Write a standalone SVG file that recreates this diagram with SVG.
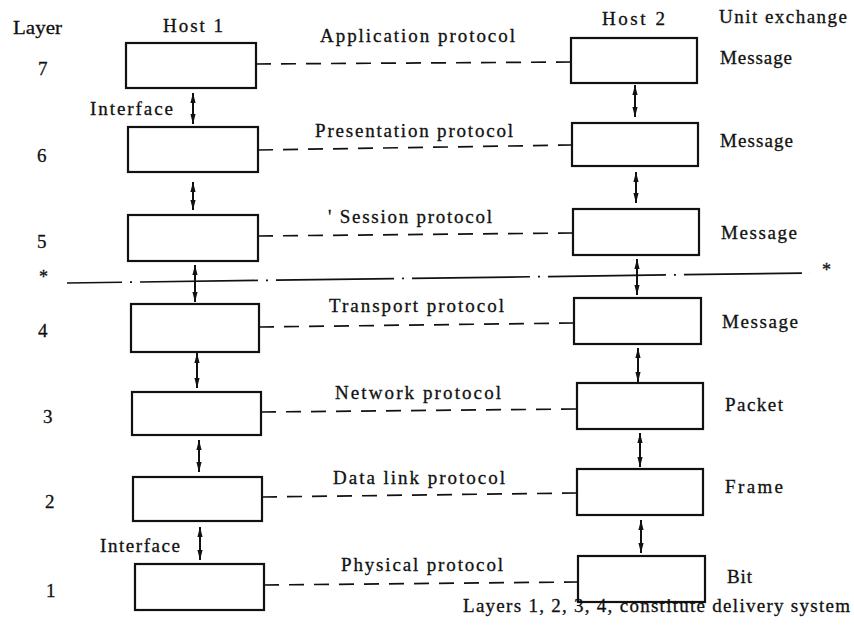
<svg xmlns="http://www.w3.org/2000/svg" width="854" height="644" viewBox="0 0 854 644" font-family="'Liberation Serif', 'Times New Roman', serif">
  <style>
    text { font-family: "Liberation Serif", "Times New Roman", serif; font-size: 19px; fill: #111; stroke: #111; stroke-width: 0.3; }
    .num { font-size: 19px; }
    .star { font-size: 18px; }
    .box { fill: #fff; stroke: #111; stroke-width: 2.2; }
    .peer { fill: none; stroke: #111; stroke-width: 1.7; stroke-dasharray: 15 10; }
    .iface { fill: none; stroke: #111; stroke-width: 2; marker-start: url(#head); marker-end: url(#head); }
    .split { fill: none; stroke: #111; stroke-width: 1.7; stroke-dasharray: 118 8 2 8; stroke-dashoffset: 63; }
  </style>
  <defs>
    <marker id="head" viewBox="0 0 10 6" refX="10" refY="3" markerWidth="10" markerHeight="6" markerUnits="userSpaceOnUse" orient="auto-start-reverse">
      <path d="M0,0.4 L10,3 L0,5.6 z" fill="#111"/>
    </marker>
  </defs>
  <rect width="854" height="644" fill="#fff"/>

  <!-- column headings -->
  <g id="headings">
    <text x="13" y="34" textLength="49" lengthAdjust="spacingAndGlyphs">Layer</text>
    <text x="163" y="32" textLength="60" lengthAdjust="spacing">Host 1</text>
    <text x="602" y="25" textLength="63" lengthAdjust="spacing">Host 2</text>
    <text x="719" y="23" textLength="128" lengthAdjust="spacing">Unit exchange</text>
  </g>

  <!-- layer numbers -->
  <g id="layer-numbers">
    <text class="num" x="38" y="75">7</text>
    <text class="num" x="37" y="162">6</text>
    <text class="num" x="37" y="248">5</text>
    <text class="num" x="38" y="337">4</text>
    <text class="num" x="43" y="423">3</text>
    <text class="num" x="45" y="508">2</text>
    <text class="num" x="46" y="597">1</text>
  </g>

  <!-- host 1 stack -->
  <g id="h1-l7"><rect class="box" x="126" y="43" width="130" height="45"/></g>
  <g id="h1-l6"><rect class="box" x="128" y="127" width="130" height="45"/></g>
  <g id="h1-l5"><rect class="box" x="128" y="215" width="130" height="46"/></g>
  <g id="h1-l4"><rect class="box" x="131" y="304" width="128" height="48"/></g>
  <g id="h1-l3"><rect class="box" x="132" y="392" width="129" height="43"/></g>
  <g id="h1-l2"><rect class="box" x="133" y="477" width="129" height="44"/></g>
  <g id="h1-l1"><rect class="box" x="135" y="564" width="129" height="46"/></g>

  <!-- host 2 stack -->
  <g id="h2-l7"><rect class="box" x="571" y="38" width="126" height="45"/></g>
  <g id="h2-l6"><rect class="box" x="572" y="123" width="126" height="43"/></g>
  <g id="h2-l5"><rect class="box" x="573" y="209" width="126" height="46"/></g>
  <g id="h2-l4"><rect class="box" x="574" y="298" width="127" height="46"/></g>
  <g id="h2-l3"><rect class="box" x="577" y="383" width="126" height="46"/></g>
  <g id="h2-l2"><rect class="box" x="577" y="469" width="126" height="46"/></g>
  <g id="h2-l1"><rect class="box" x="578" y="556" width="127" height="46"/></g>

  <!-- units exchanged per layer -->
  <g id="units">
    <text x="720" y="64" textLength="72" lengthAdjust="spacing">Message</text>
    <text x="720" y="147" textLength="73" lengthAdjust="spacing">Message</text>
    <text x="721" y="239" textLength="76" lengthAdjust="spacing">Message</text>
    <text x="722" y="328" textLength="76" lengthAdjust="spacing">Message</text>
    <text x="725" y="411" textLength="58" lengthAdjust="spacing">Packet</text>
    <text x="725" y="493" textLength="58" lengthAdjust="spacing">Frame</text>
    <text x="727" y="583" textLength="25" lengthAdjust="spacing">Bit</text>
  </g>

  <!-- connectors: peer protocols, interfaces, boundary -->
  <g id="connectors">
    <line class="peer" x1="256" y1="64" x2="571" y2="62"/>
    <line class="peer" x1="258" y1="150" x2="572" y2="145"/>
    <line class="peer" x1="258" y1="236" x2="573" y2="233"/>
    <line class="peer" x1="259" y1="327" x2="574" y2="323"/>
    <line class="peer" x1="261" y1="412" x2="577" y2="409"/>
    <line class="peer" x1="262" y1="497" x2="577" y2="493"/>
    <line class="peer" x1="264" y1="585" x2="578" y2="582"/>

    <line class="split" x1="67" y1="283" x2="810" y2="273"/>

    <line class="iface" x1="193" y1="93" x2="193" y2="124"/>
    <line class="iface" x1="193" y1="182" x2="193" y2="210"/>
    <line class="iface" x1="195" y1="265" x2="195" y2="302"/>
    <line class="iface" x1="197" y1="353" x2="197" y2="388"/>
    <line class="iface" x1="199" y1="440" x2="199" y2="472"/>
    <line class="iface" x1="200" y1="527" x2="200" y2="560"/>

    <line class="iface" x1="635" y1="85" x2="635" y2="117"/>
    <line class="iface" x1="636" y1="172" x2="636" y2="203"/>
    <line class="iface" x1="637" y1="259" x2="637" y2="295"/>
    <line class="iface" x1="638" y1="348" x2="638" y2="382"/>
    <line class="iface" x1="640" y1="433" x2="640" y2="467"/>
    <line class="iface" x1="641" y1="520" x2="641" y2="553"/>
  </g>

  <!-- connector labels -->
  <g id="labels">
    <text x="320" y="42" textLength="195" lengthAdjust="spacing">Application protocol</text>
    <text x="315" y="137" textLength="198" lengthAdjust="spacing">Presentation protocol</text>
    <text x="328" y="223" textLength="164" lengthAdjust="spacing">' Session protocol</text>
    <text x="329" y="312" textLength="175" lengthAdjust="spacing">Transport protocol</text>
    <text x="335" y="399" textLength="166" lengthAdjust="spacing">Network protocol</text>
    <text x="333" y="484" textLength="172" lengthAdjust="spacing">Data link protocol</text>
    <text x="341" y="571" textLength="162" lengthAdjust="spacing">Physical protocol</text>
    <text x="90" y="115" textLength="83" lengthAdjust="spacing">Interface</text>
    <text x="100" y="552" textLength="80" lengthAdjust="spacing">Interface</text>
    <text class="star" x="39" y="283">*</text>
    <text class="star" x="822" y="276">*</text>
    <text x="463" y="612" textLength="387" lengthAdjust="spacing">Layers 1, 2, 3, 4, constitute delivery system</text>
  </g>
</svg>
